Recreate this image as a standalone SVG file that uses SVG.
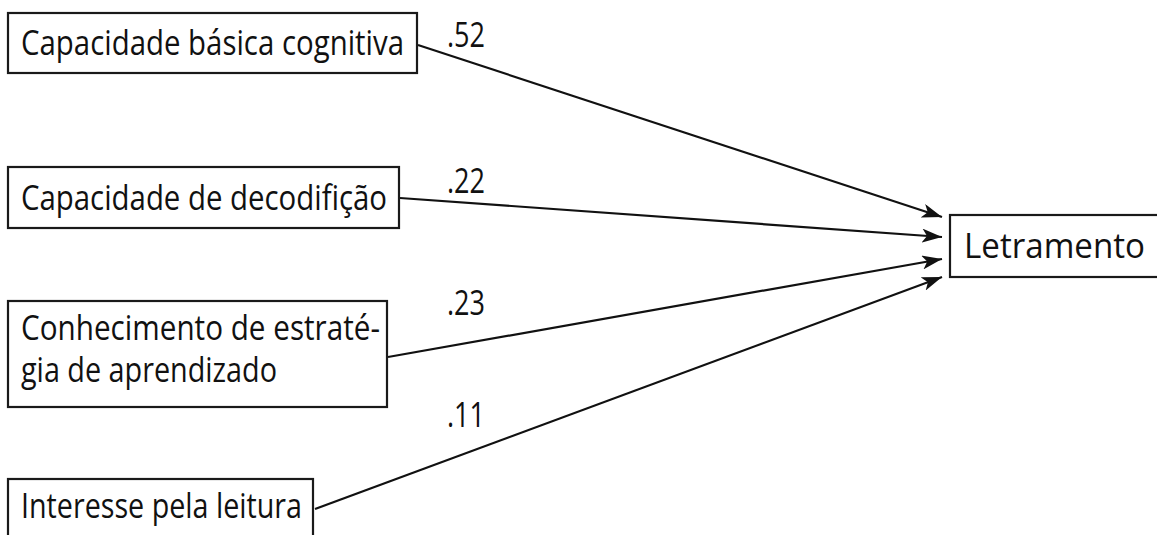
<svg xmlns="http://www.w3.org/2000/svg" width="1157" height="535" viewBox="0 0 1157 535">
  <style>
    .box { fill: #ffffff; stroke: #1a1a1a; stroke-width: 2.2; }
    .lbl { font-family: "Open Sans", "Noto Sans", sans-serif; font-size: 34px; fill: #111111; }
    .num { font-family: "Open Sans", "Noto Sans", sans-serif; font-size: 34px; fill: #111111; }
    .edge { stroke: #111111; stroke-width: 2.2; fill: none; marker-end: url(#arrow); }
  </style>
  <defs>
    <marker id="arrow" viewBox="0 0 20 14" refX="20" refY="7" markerWidth="20" markerHeight="14" markerUnits="userSpaceOnUse" orient="auto">
      <path d="M0,0 L20,7 L0,14 L5,7 Z" fill="#111111"/>
    </marker>
  </defs>

  <rect width="1157" height="535" fill="#ffffff"/>

  <!-- path coefficients pointing into Letramento -->
  <g id="connectors">
    <line class="edge" x1="418" y1="45" x2="942" y2="217"/>
    <line class="edge" x1="400" y1="198" x2="942" y2="237"/>
    <line class="edge" x1="388" y1="357" x2="942" y2="259"/>
    <line class="edge" x1="315" y1="509" x2="942" y2="277"/>
    <text class="num" x="447" y="47" textLength="38" lengthAdjust="spacingAndGlyphs">.52</text>
    <text class="num" x="447" y="193" textLength="38" lengthAdjust="spacingAndGlyphs">.22</text>
    <text class="num" x="447" y="315" textLength="38" lengthAdjust="spacingAndGlyphs">.23</text>
    <text class="num" x="447" y="427" textLength="38" lengthAdjust="spacingAndGlyphs">.11</text>
  </g>

  <g id="node-capacidade-basica">
    <rect class="box" x="8" y="13" width="409" height="60"/>
    <text class="lbl" x="21" y="55" textLength="383" lengthAdjust="spacingAndGlyphs">Capacidade básica cognitiva</text>
  </g>

  <g id="node-decodificacao">
    <rect class="box" x="8" y="167" width="391" height="61"/>
    <text class="lbl" x="21" y="210" textLength="366" lengthAdjust="spacingAndGlyphs">Capacidade de decodifição</text>
  </g>

  <g id="node-estrategia">
    <rect class="box" x="8" y="301" width="379" height="106"/>
    <text class="lbl" x="21" y="340" textLength="359" lengthAdjust="spacingAndGlyphs">Conhecimento de estraté-</text>
    <text class="lbl" x="21" y="382" textLength="256" lengthAdjust="spacingAndGlyphs">gia de aprendizado</text>
  </g>

  <g id="node-interesse">
    <rect class="box" x="8" y="479" width="305" height="70"/>
    <text class="lbl" x="21" y="518" textLength="281" lengthAdjust="spacingAndGlyphs">Interesse pela leitura</text>
  </g>

  <g id="node-letramento">
    <rect class="box" x="950" y="215" width="215" height="62"/>
    <text class="lbl" x="964" y="258" textLength="181" lengthAdjust="spacingAndGlyphs">Letramento</text>
  </g>
</svg>
